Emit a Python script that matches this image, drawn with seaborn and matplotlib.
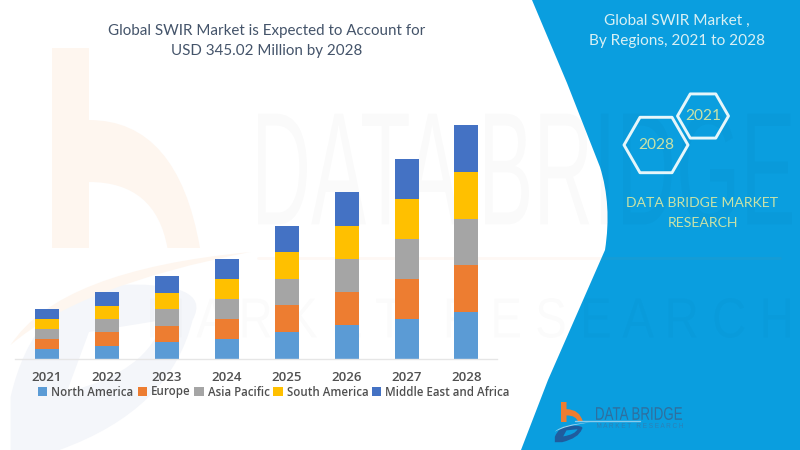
import matplotlib
matplotlib.use('Agg')
import matplotlib.pyplot as plt
from matplotlib.patches import PathPatch, RegularPolygon
from matplotlib.path import Path
from matplotlib.textpath import TextPath
from matplotlib.transforms import Affine2D
from matplotlib.font_manager import FontProperties
import numpy as np
import seaborn as sns

years = ['2021', '2022', '2023', '2024', '2025', '2026', '2027', '2028']
regions = ['North America', 'Europe', 'Asia Pacific', 'South America', 'Middle East and Africa']
north_america = [13.7, 19.2, 24.0, 29.0, 39.3, 49.1, 59.0, 68.9]
europe = [15.2, 19.6, 24.6, 29.9, 39.3, 49.1, 59.0, 68.9]
asia_pacific = [14.7, 19.6, 24.6, 29.5, 39.3, 49.1, 59.0, 68.9]
south_america = [15.2, 19.6, 24.0, 29.5, 39.3, 49.1, 59.0, 69.4]
middle_east = [14.7, 19.6, 24.6, 29.5, 39.3, 49.7, 59.0, 68.9]
colors = ['#5B9BD5', '#ED7D31', '#A5A5A5', '#FFC000', '#4472C4']

sns.set_theme(style='white')
plt.rcParams['font.family'] = ['Lato', 'DejaVu Sans']

PANEL = '#0A9EDF'
TITLE = '#44546A'
PALE = '#D8F0F4'
GREEN = '#C8E2A8'


def fit_text(ax, s, x0, x1, y0, y1, color, alpha=1.0, family='Liberation Sans', z=2):
	# squeeze text into a pixel box, y axis runs downward
	tp = TextPath((0, 0), s, size=100, prop=FontProperties(family=family))
	b = tp.get_extents()
	tr = Affine2D().translate(-b.x0, -b.y0).scale((x1 - x0) / b.width, -(y1 - y0) / b.height).translate(x0, y1)
	ax.add_patch(PathPatch(tr.transform_path(tp), fc=color, ec='none', alpha=alpha, zorder=z))


def b_logo(ax, x, y, w, h, orange, blue, swoosh, hole, z):
	# unit box is the b itself, the D and the swoosh hang below it
	M, L, C, Z = Path.MOVETO, Path.LINETO, Path.CURVE3, Path.CLOSEPOLY
	b_path = Path([(0, 0), (.25, 0), (.25, .36), (.85, .36), (1, 1), (.78, 1), (.7, .67), (.25, .67), (.25, 1), (0, 1), (0, 0)],
		[M, L, L, C, C, L, C, C, L, L, Z])
	d_path = Path([(-.28, 2.01), (-.28, 1.745), (-.13, 1.26), (.39, 1.185), (1.1, 1.16), (.95, 1.36), (.8, 1.81), (.05, 2.01), (-.28, 2.01)],
		[M, L, C, C, C, C, C, C, Z])
	hole_path = Path([(.25, 1.42), (.75, 1.36), (.65, 1.62), (.1, 1.72), (.25, 1.42)], [M, L, C, C, Z])
	sw_path = Path([(-.28, 1.485), (.05, 1.11), (1.34, 1.02), (.19, 1.185), (-.28, 1.485)], [M, C, C, C, C])
	tr = Affine2D().scale(w, h).translate(x, y)
	ax.add_patch(PathPatch(tr.transform_path(b_path), fc=orange, ec='none', zorder=z))
	ax.add_patch(PathPatch(tr.transform_path(d_path), fc=blue, ec='none', zorder=z))
	ax.add_patch(PathPatch(tr.transform_path(hole_path), fc=hole, ec='none', zorder=z))
	ax.add_patch(PathPatch(tr.transform_path(sw_path), fc=swoosh, ec='none', zorder=z))


fig = plt.figure(figsize=(8, 4.5), dpi=100, facecolor='white')

# background layer in pixel coordinates
bg = fig.add_axes([0, 0, 1, 1], zorder=0)
bg.set_xlim(0, 800)
bg.set_ylim(450, 0)
bg.axis('off')

b_logo(bg, 52, 48, 148, 200, '#FEF6EF', '#F4F6FA', '#FEF6EF', 'white', 1)

panel = Path([(532, 0), (567, 83), (600, 167), (612, 205), (605, 250), (548, 380), (521, 450),
	(800, 450), (800, 0), (532, 0)],
	[Path.MOVETO, Path.LINETO, Path.LINETO, Path.CURVE3, Path.CURVE3, Path.LINETO, Path.LINETO,
	Path.LINETO, Path.LINETO, Path.CLOSEPOLY])
bg.add_patch(PathPatch(panel, fc=PANEL, ec='none', zorder=2))

# watermark sits over both the white part and the panel
fit_text(bg, 'DATA BRIDGE', 258, 792, 112, 226, 'black', alpha=0.018, z=3)
fit_text(bg, 'M A R K E T   R E S E A R C H', 150, 790, 298, 338, 'black', alpha=0.014, z=3)
bg.plot([258, 780], [258, 258], color='#ED7D31', alpha=0.05, lw=2, zorder=3)

bg.text(266.5, 31.5, 'Global SWIR Market is Expected to Account for', ha='center', va='center', fontsize=10.9, color=TITLE)
bg.text(266.5, 51.5, 'USD 345.02 Million by 2028', ha='center', va='center', fontsize=10.9, color=TITLE)
bg.text(677, 21, 'Global SWIR Market ,', ha='center', va='center', fontsize=11.1, color=PALE, zorder=4)
bg.text(677, 41, 'By Regions, 2021 to 2028', ha='center', va='center', fontsize=11.1, color=PALE, zorder=4)

for cx, cy, r, label, fs in [(656, 145, 32, '2028', 11.2), (703, 116, 25.5, '2021', 11.2)]:
	bg.add_patch(RegularPolygon((cx, cy), 6, radius=r, orientation=np.pi / 6, fc='none', ec='#E6F6FA', lw=2.1,
		joinstyle='round', zorder=4))
	bg.text(cx, cy, label, ha='center', va='center', fontsize=fs, color=GREEN, zorder=5)

bg.text(702, 203, 'DATA BRIDGE MARKET', ha='center', va='center', fontsize=10.1, color=GREEN, zorder=4)
bg.text(703, 223, 'RESEARCH', ha='center', va='center', fontsize=10.1, color=GREEN, zorder=4)

b_logo(bg, 561, 402, 22, 20, '#EE7D31', '#1F5C9E', '#9FD3EE', PANEL, 5)
fit_text(bg, 'DATA BRIDGE', 596, 682, 407, 420, '#2F6F9F', z=5)
bg.plot([575, 640], [420.5, 420.5], color='#8CCBEA', lw=1, zorder=5)
fit_text(bg, 'M A R K E T   R E S E A R C H', 597, 683, 423, 428, '#2E7FB5', z=5)

# chart layer: baseline at y=358.5, first bar centred at x=47
ax = fig.add_axes([15 / 800, 1 - 358.5 / 450, 482 / 800, 258.5 / 450], zorder=1)
ax.patch.set_alpha(0)

series = [north_america, europe, asia_pacific, south_america, middle_east]
bottom = np.zeros(len(years))
for name, vals, col in zip(regions, series, colors):
	sns.barplot(x=years, y=vals, bottom=bottom, color=col, width=0.4, saturation=1, label=name, ax=ax, legend=False, linewidth=0)
	bottom += np.array(vals)

ax.set_xlim(-0.534, 7.51)
ax.set_ylim(0, 382)
ax.set_yticks([])
ax.set_xlabel('')
ax.set_ylabel('')
sns.despine(ax=ax, left=True)
ax.spines['bottom'].set_color('#E6E6E6')
ax.spines['bottom'].set_linewidth(1)
ax.tick_params(axis='x', length=0, pad=9, labelsize=9.5, labelcolor='#505050')
for t in ax.get_xticklabels():
	t.set_family(['Open Sans', 'DejaVu Sans'])
	t.set_fontweight('semibold')

leg = ax.legend(loc='center', bbox_to_anchor=(259 / 482, -33.5 / 258.5), ncol=5, frameon=False,
	handlelength=0.8, handleheight=0.8, handletextpad=0.35, columnspacing=0.34, borderpad=0, borderaxespad=0,
	prop={'family': ['Open Sans', 'DejaVu Sans'], 'size': 8.3, 'weight': 'semibold'}, labelcolor='#505050')

fig.savefig('out.png', dpi=100)
